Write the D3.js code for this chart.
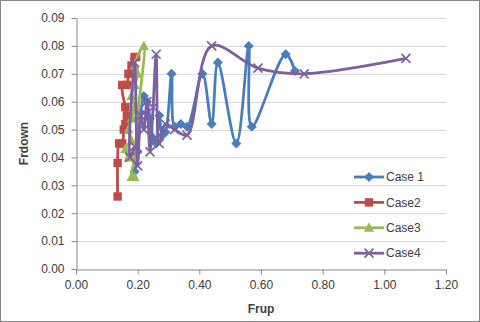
<!doctype html>
<html>
  <head>
    <title>Frdown vs Frup</title>
    <script src="https://d3js.org/d3.v7.min.js"></script>
    <style>
      body { margin: 0; background: #fff; }
      svg { display: block; font-family: "Liberation Sans", Arial, sans-serif; }
      .tick-label { font-size: 12px; fill: #404040; }
      .axis-title { font-size: 12px; font-weight: bold; fill: #404040; }
      .legend-label { font-size: 12px; fill: #404040; }
    </style>
  </head>
  <body>
    <div id="chart"></div>
    <script>
      // series values
      const case1X = [0.19, 0.20, 0.21, 0.22, 0.23, 0.24, 0.25, 0.26, 0.27, 0.28, 0.29, 0.31, 0.32, 0.34, 0.36, 0.41, 0.44, 0.46, 0.52, 0.56, 0.57, 0.68, 0.71];
      const case1Y = [0.035, 0.042, 0.056, 0.062, 0.060, 0.054, 0.047, 0.045, 0.055, 0.048, 0.049, 0.070, 0.051, 0.052, 0.051, 0.070, 0.052, 0.074, 0.045, 0.080, 0.051, 0.077, 0.071];

      const case2X = [0.135, 0.135, 0.14, 0.15, 0.155, 0.16, 0.165, 0.16, 0.15, 0.165, 0.17, 0.18, 0.19, 0.195];
      const case2Y = [0.026, 0.038, 0.045, 0.045, 0.050, 0.052, 0.055, 0.058, 0.066, 0.066, 0.070, 0.073, 0.076, 0.076];

      const case3X = [0.17, 0.16, 0.18, 0.17, 0.18, 0.19, 0.18, 0.19, 0.20, 0.19, 0.22, 0.20, 0.19, 0.18, 0.19];
      const case3Y = [0.040, 0.043, 0.046, 0.050, 0.054, 0.058, 0.062, 0.066, 0.070, 0.073, 0.080, 0.055, 0.040, 0.033, 0.033];

      const case4X = [0.19, 0.175, 0.19, 0.20, 0.21, 0.22, 0.23, 0.24, 0.25, 0.26, 0.27, 0.29, 0.32, 0.36, 0.44, 0.59, 0.74, 1.07];
      const case4Y = [0.044, 0.040, 0.074, 0.037, 0.055, 0.050, 0.060, 0.042, 0.058, 0.077, 0.045, 0.052, 0.050, 0.048, 0.080, 0.072, 0.070, 0.0755];

      const xTicks = [0, 0.2, 0.4, 0.6, 0.8, 1.0, 1.2];
      const yTicks = [0, 0.01, 0.02, 0.03, 0.04, 0.05, 0.06, 0.07, 0.08, 0.09];

      const seriesNames = ['Case 1', 'Case2', 'Case3', 'Case4'];
      const seriesColors = ['#4a7ebb', '#be4b48', '#98b954', '#7d60a0'];
      const seriesMarkers = ['diamond', 'square', 'triangle', 'cross'];

      const series = [
        [case1X, case1Y],
        [case2X, case2Y],
        [case3X, case3Y],
        [case4X, case4Y]
      ].map(([xs, ys], i) => ({
        name: seriesNames[i],
        color: seriesColors[i],
        marker: seriesMarkers[i],
        points: xs.map((x, j) => [x, ys[j]])
      }));

      const width = 480, height = 322;
      const margin = {left: 76, right: 34, top: 18, bottom: 53};

      const x = d3.scaleLinear().domain([0, 1.2]).range([margin.left, width - margin.right]);
      const y = d3.scaleLinear().domain([0, 0.09]).range([height - margin.bottom, margin.top]);

      const svg = d3.select('#chart')
        .append('svg')
        .attr('width', width)
        .attr('height', height);

      // outer frame
      svg.append('rect')
        .attr('x', 0.5).attr('y', 0.5)
        .attr('width', width - 1).attr('height', height - 1)
        .attr('fill', '#fff')
        .attr('stroke', '#868686');

      // gridlines
      svg.append('g')
        .selectAll('line')
        .data(yTicks.slice(1))
        .join('line')
        .attr('x1', x(0)).attr('x2', x(1.2))
        .attr('y1', d => Math.round(y(d)) + 0.5)
        .attr('y2', d => Math.round(y(d)) + 0.5)
        .attr('stroke', '#d9d9d9')
        .attr('stroke-width', 1.2);

      // axes
      const xAxis = d3.axisBottom(x).tickValues(xTicks).tickFormat(d3.format('.2f')).tickSize(5).tickSizeOuter(0);
      const yAxis = d3.axisLeft(y).tickValues(yTicks).tickFormat(d3.format('.2f')).tickSize(5).tickSizeOuter(0);

      const gx = svg.append('g')
        .attr('transform', `translate(0,${Math.round(y(0)) + 0.5})`)
        .call(xAxis);
      const gy = svg.append('g')
        .attr('transform', `translate(${Math.round(x(0)) + 0.5},0)`)
        .call(yAxis);

      [gx, gy].forEach(g => {
        g.attr('font-family', null).attr('font-size', null);
        g.select('.domain').attr('stroke', '#868686');
        g.selectAll('.tick line').attr('stroke', '#868686');
        g.selectAll('.tick text').attr('class', 'tick-label');
      });
      gx.selectAll('.tick text').attr('dy', '1.15em').attr('y', 6);
      gy.selectAll('.tick text').attr('x', -12);

      // axis titles
      svg.append('text')
        .attr('class', 'axis-title')
        .attr('x', (x(0) + x(1.2)) / 2)
        .attr('y', 313)
        .attr('text-anchor', 'middle')
        .text('Frup');

      svg.append('text')
        .attr('class', 'axis-title')
        .attr('transform', `translate(28,${(y(0) + y(0.09)) / 2}) rotate(-90)`)
        .attr('text-anchor', 'middle')
        .text('Frdown');

      // markers
      function drawMarker(g, type, color) {
        if (type === 'diamond') {
          g.append('path').attr('d', 'M0,-5L5,0L0,5L-5,0Z').attr('fill', color);
        } else if (type === 'square') {
          g.append('rect').attr('x', -4.2).attr('y', -4.2).attr('width', 8.4).attr('height', 8.4).attr('fill', color);
        } else if (type === 'triangle') {
          g.append('path').attr('d', 'M0,-5.5L5,4L-5,4Z').attr('fill', color);
        } else {
          g.append('path').attr('d', 'M-4.5,-4.5L4.5,4.5M-4.5,4.5L4.5,-4.5').attr('stroke', color).attr('stroke-width', 1.7).attr('fill', 'none');
        }
      }

      const line = d3.line()
        .x(d => x(d[0]))
        .y(d => y(d[1]))
        .curve(d3.curveCatmullRom.alpha(0.5));

      series.forEach(s => {
        const g = svg.append('g');
        g.append('path')
          .datum(s.points)
          .attr('d', line)
          .attr('fill', 'none')
          .attr('stroke', s.color)
          .attr('stroke-width', 2.8)
          .attr('stroke-linejoin', 'round');
        g.selectAll('g.pt')
          .data(s.points)
          .join('g')
          .attr('class', 'pt')
          .attr('transform', d => `translate(${x(d[0])},${y(d[1])})`)
          .each(function () { drawMarker(d3.select(this), s.marker, s.color); });
      });

      // legend
      const legend = svg.append('g').attr('transform', 'translate(354,177)');
      const item = legend.selectAll('g')
        .data(series)
        .join('g')
        .attr('transform', (d, i) => `translate(0,${i * 25.4})`);
      item.append('line')
        .attr('x1', 0).attr('x2', 30)
        .attr('stroke', d => d.color)
        .attr('stroke-width', 2.8);
      item.append('g')
        .attr('transform', 'translate(15,0)')
        .each(function (d) { drawMarker(d3.select(this), d.marker, d.color); });
      item.append('text')
        .attr('class', 'legend-label')
        .attr('x', 32)
        .attr('dy', '0.35em')
        .text(d => d.name);
    </script>
  </body>
</html>
